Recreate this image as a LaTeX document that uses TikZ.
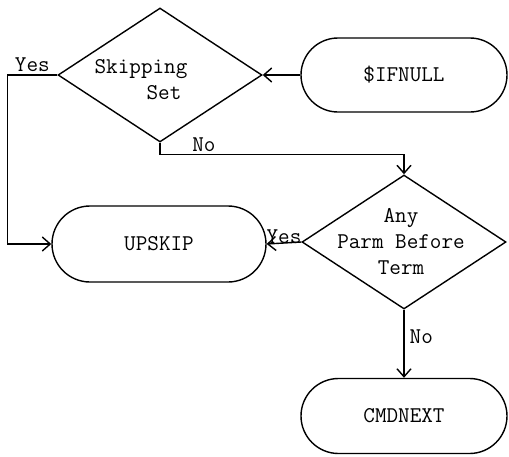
\documentclass[tikz,border=0pt]{standalone}
\usetikzlibrary{shapes.geometric,shapes.misc,arrows.meta}

\begin{document}
\begin{tikzpicture}[x=1pt, y=-1pt,
      font=\ttfamily\fontsize{22.5}{26}\selectfont,
      line width=1.4pt,
      term/.style={draw, rounded rectangle, minimum width=206pt,
                   minimum height=74pt, inner sep=0pt},
      dec/.style={draw, diamond, minimum width=204pt,
                  minimum height=134pt, inner sep=0pt},
      flow/.style={-{Straight Barb[length=8pt, width=14pt]}},
    ]
      \useasboundingbox (0,0) rectangle (509,456);
      % boxes
      \node[dec, label={[align=left, xshift=-19pt, yshift=-5pt]
            center:Skipping\\\hspace*{52pt}Set}] (skip) at (160,75) {};
      \node[term] (ifnull) at (404,75) {\$IFNULL};
      \node[term, minimum width=214pt, minimum height=76pt]
            (upskip) at (159,244) {UPSKIP};
      \node[dec, label={[align=center, xshift=-3pt]
            center:Any\\Parm Before\\Term}] (parm) at (404,242) {};
      \node[term, minimum height=75pt] (cmdnext) at (404,416) {CMDNEXT};
      % lines
      \draw[flow] (ifnull.west) -- (skip.east);
      \draw[flow] (skip.west) -- node[above, inner sep=3pt] (yesa) {Yes}
            ++(-50,0) |- (upskip.west);
      \draw[flow] (skip.south) -- ++(0,12)
            -| node[pos=0.09, above, inner sep=2pt] (noa) {No} (parm.north);
      \draw[flow] (parm.west) -- node[anchor=base, inner sep=1pt] (yesb) {Yes}
            (upskip.east);
      \draw[flow] (parm.south) -- node[pos=0.4, right, inner sep=5pt] (nob) {No}
            (cmdnext.north);
    \end{tikzpicture}
\end{document}
